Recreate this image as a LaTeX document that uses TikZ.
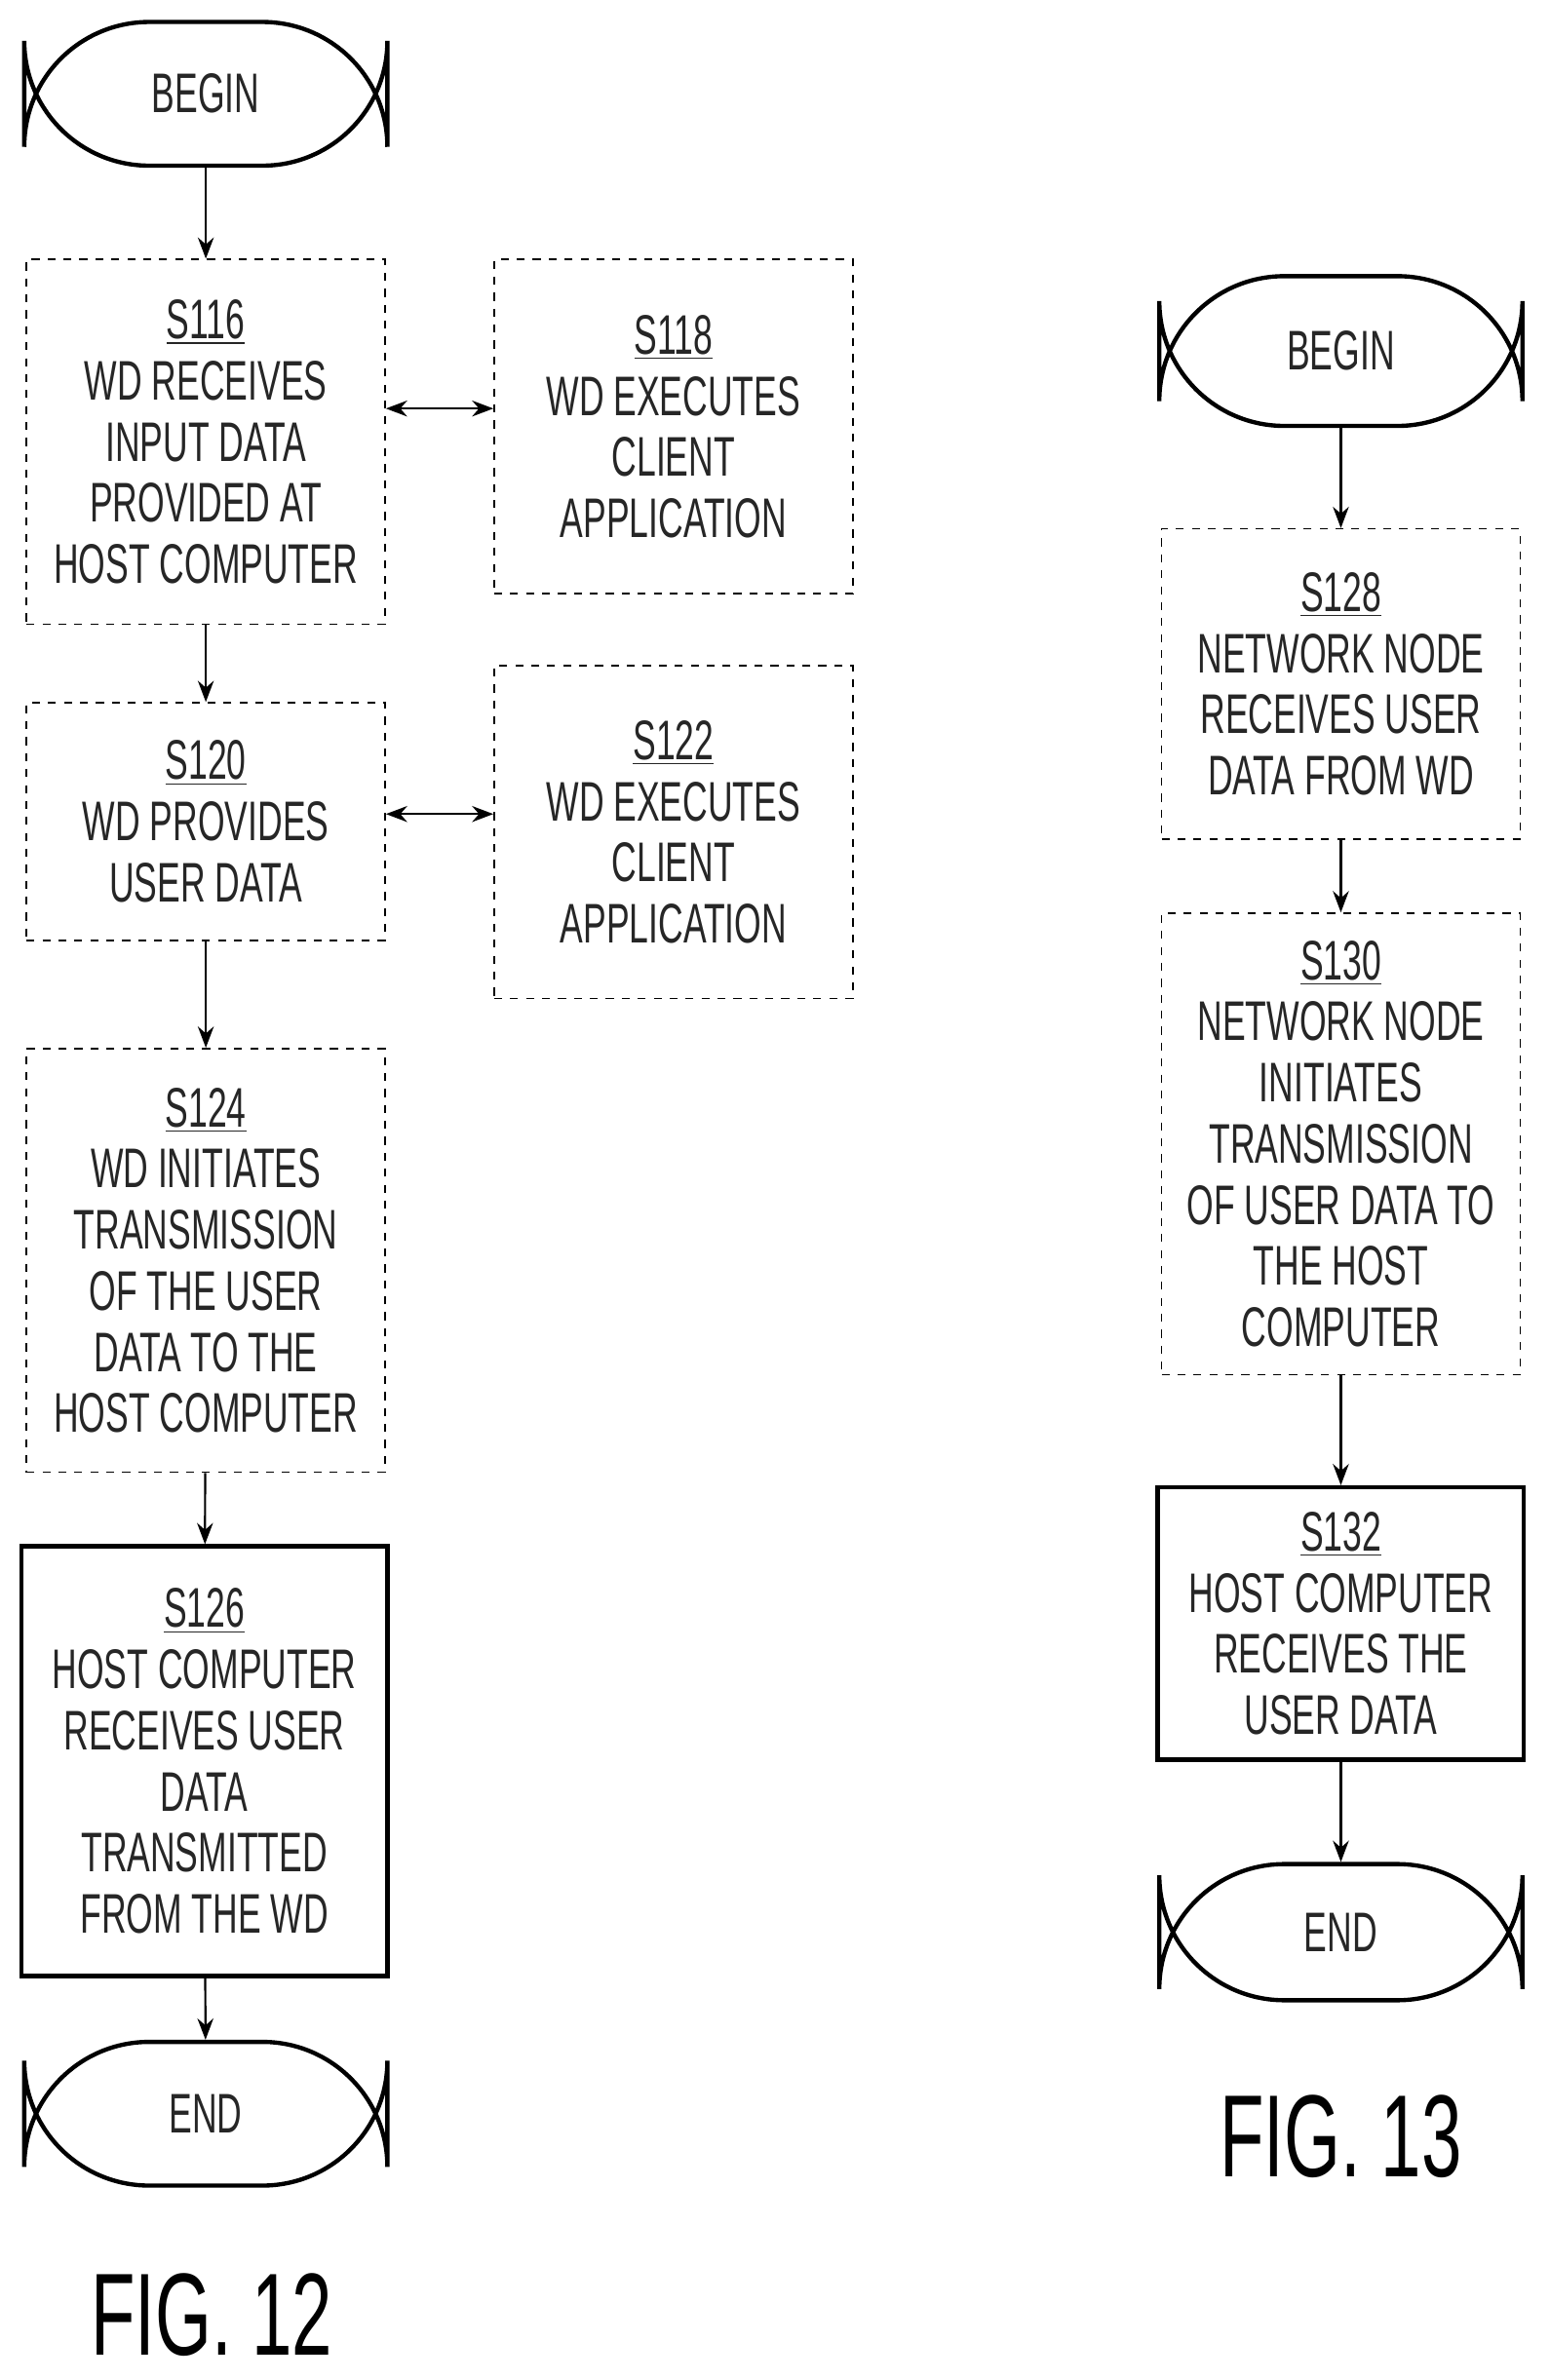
\documentclass[tikz,border=0pt]{standalone}
\usepackage{fontspec}
\setmainfont[FakeStretch=0.62]{Liberation Sans}
\usetikzlibrary{arrows.meta}
\begin{document}
\begin{tikzpicture}[x=0.02cm,y=-0.02cm,
  txt/.style={font=\fontsize{21}{23}\selectfont,align=center,text=black!85},
  term/.style={txt,draw,line width=1.6pt,rounded corners=47,minimum width=4.8cm,minimum height=1.9cm},
  dbox/.style={txt,draw,dashed,line width=0.6pt,minimum width=4.74cm,inner sep=0},
  sbox/.style={txt,draw,line width=1.6pt,minimum width=4.84cm,inner sep=0},
  arr/.style={-{Stealth[length=8pt,width=6pt]},line width=0.8pt},
  darr/.style={{Stealth[length=8pt,width=6pt]}-{Stealth[length=8pt,width=6pt]},line width=0.8pt}]
\useasboundingbox (0,0) rectangle (1024,1573);
% left
\node[term] (b1) at (136,62) {BEGIN};
\node[dbox,minimum height=4.82cm] (s116) at (136,292) {\underline{S116}\\WD RECEIVES\\INPUT DATA\\PROVIDED AT\\HOST COMPUTER};
\node[dbox,minimum height=4.42cm] (s118) at (445,282) {\underline{S118}\\WD EXECUTES\\CLIENT\\APPLICATION};
\node[dbox,minimum height=3.14cm] (s120) at (136,543) {\underline{S120}\\WD PROVIDES\\USER DATA};
\node[dbox,minimum height=4.4cm] (s122) at (445,550) {\underline{S122}\\WD EXECUTES\\CLIENT\\APPLICATION};
\node[dbox,minimum height=5.6cm] (s124) at (136,833) {\underline{S124}\\WD INITIATES\\TRANSMISSION\\OF THE USER\\DATA TO THE\\HOST COMPUTER};
\node[sbox,minimum height=5.68cm] (s126) at (135,1164) {\underline{S126}\\HOST COMPUTER\\RECEIVES USER\\DATA\\TRANSMITTED\\FROM THE WD};
\node[term] (e1) at (136,1397) {END};
\node[font=\fontsize{44}{44}\selectfont] (f12) at (140,1530) {FIG. 12};
\draw[arr] (b1) -- (s116);
\draw[darr] (s116.east|-0,270) -- (s118.west|-0,270);
\draw[arr] (s116) -- (s120);
\draw[darr] (s120.east|-0,538) -- (s122.west|-0,538);
\draw[arr] (s120) -- (s124);
\draw[arr] (s124) -- (s126);
\draw[arr] (s126) -- (e1);
% right
\node[term,minimum height=1.98cm] (b2) at (886,232) {BEGIN};
\node[dbox,minimum height=4.1cm] (s128) at (886,452) {\underline{S128}\\NETWORK NODE\\RECEIVES USER\\DATA FROM WD};
\node[dbox,minimum height=6.1cm] (s130) at (886,756) {\underline{S130}\\NETWORK NODE\\INITIATES\\TRANSMISSION\\OF USER DATA TO\\THE HOST\\COMPUTER};
\node[sbox,minimum height=3.6cm] (s132) at (886,1073) {\underline{S132}\\HOST COMPUTER\\RECEIVES THE\\USER DATA};
\node[term,minimum height=1.8cm] (e2) at (886,1277) {END};
\node[font=\fontsize{44}{44}\selectfont] (f13) at (886,1412) {FIG. 13};
\draw[arr] (b2) -- (s128);
\draw[arr] (s128) -- (s130);
\draw[arr] (s130) -- (s132);
\draw[arr] (s132) -- (e2);
\end{tikzpicture}
\end{document}
